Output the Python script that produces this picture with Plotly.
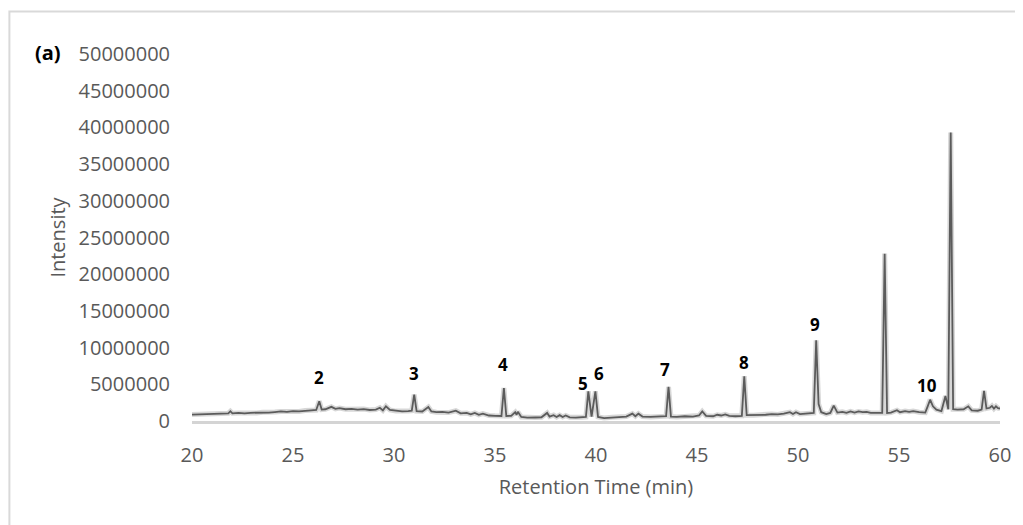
import plotly.graph_objects as go

# Retention time (min) and intensity (millions of counts)
retention_time = [
    20.0, 20.3, 20.6, 20.9, 21.2, 21.5, 21.8, 21.9, 22.0, 22.3, 22.6, 22.9, 23.2, 23.5, 23.8,
    24.1, 24.4, 24.7, 25.0, 25.3, 25.6, 25.9, 26.15, 26.3, 26.42, 26.6, 26.9, 27.1, 27.3, 27.6,
    27.9, 28.2, 28.5, 28.8, 29.1, 29.3, 29.45, 29.6, 29.8, 30.1, 30.4, 30.7, 30.88, 31.0, 31.12,
    31.4, 31.7, 31.85, 32.1, 32.4, 32.7, 33.06, 33.3, 33.6, 33.8, 34.0, 34.2, 34.4, 34.7, 35.0,
    35.32, 35.44, 35.56, 35.8, 36.0, 36.07, 36.13, 36.3, 36.6, 37.0, 37.3, 37.58, 37.7, 37.9, 38.05,
    38.2, 38.35, 38.5, 38.7, 39.0, 39.3, 39.5, 39.62, 39.78, 39.97, 40.1, 40.4, 40.8, 41.2, 41.5,
    41.8, 41.95, 42.1, 42.3, 42.7, 43.1, 43.47, 43.59, 43.71, 44.0, 44.4, 44.8, 45.1, 45.26, 45.45,
    45.8, 46.0, 46.2, 46.4, 46.6, 46.9, 47.22, 47.34, 47.46, 47.8, 48.1, 48.4, 48.7, 49.0, 49.3,
    49.6, 49.75, 49.9, 50.1, 50.4, 50.78, 50.9, 51.02, 51.15, 51.4, 51.6, 51.77, 51.95, 52.2, 52.4,
    52.6, 52.8, 53.0, 53.2, 53.4, 53.6, 53.9, 54.17, 54.29, 54.41, 54.6, 54.9, 55.05, 55.3, 55.5,
    55.7, 56.0, 56.3, 56.42, 56.54, 56.68, 56.85, 57.1, 57.3, 57.44, 57.56, 57.68, 57.9, 58.2, 58.43,
    58.6, 58.9, 59.09, 59.21, 59.33, 59.5, 59.6, 59.7, 59.8, 59.9, 60.0,
]
intensity_millions = [
    0.88, 0.90, 0.92, 0.95, 0.98, 1.00, 1.05, 1.33, 1.05, 1.10, 1.05, 1.12, 1.10, 1.18, 1.15,
    1.22, 1.30, 1.25, 1.35, 1.30, 1.42, 1.45, 1.50, 2.70, 1.55, 1.60, 1.93, 1.65, 1.75, 1.60,
    1.65, 1.55, 1.62, 1.50, 1.55, 1.80, 1.45, 2.00, 1.50, 1.35, 1.30, 1.35, 1.40, 3.60, 1.35,
    1.30, 1.90, 1.30, 1.20, 1.25, 1.15, 1.40, 1.05, 1.10, 0.90, 1.10, 0.85, 1.00, 0.75, 0.70,
    0.68, 4.50, 0.68, 0.70, 1.20, 0.85, 1.25, 0.55, 0.45, 0.48, 0.50, 1.10, 0.60, 0.80, 0.55,
    0.80, 0.55, 0.75, 0.50, 0.45, 0.50, 0.55, 4.05, 0.60, 4.05, 0.55, 0.40, 0.50, 0.55, 0.60,
    1.00, 0.65, 1.00, 0.60, 0.55, 0.60, 0.65, 4.65, 0.60, 0.55, 0.65, 0.60, 0.75, 1.30, 0.70,
    0.65, 0.85, 0.75, 0.90, 0.70, 0.65, 0.70, 6.10, 0.80, 0.80, 0.90, 0.85, 0.95, 0.90, 1.00,
    1.20, 0.95, 1.20, 0.95, 1.05, 1.10, 11.00, 2.30, 1.20, 0.95, 1.10, 2.10, 1.15, 1.25, 1.10,
    1.30, 1.15, 1.30, 1.20, 1.25, 1.10, 1.05, 1.10, 22.80, 1.10, 1.15, 1.47, 1.20, 1.35, 1.25,
    1.35, 1.20, 1.15, 2.00, 2.90, 2.00, 1.55, 1.35, 3.40, 1.60, 39.30, 1.60, 1.55, 1.60, 2.00,
    1.45, 1.40, 1.55, 4.10, 1.70, 1.80, 2.05, 1.70, 2.00, 1.75, 1.70,
]

# Peak labels
peak_labels = ["2", "3", "4", "5", "6", "7", "8", "9", "10"]
peak_label_time = [26.29, 30.98, 35.42, 39.37, 40.16, 43.42, 47.35, 50.86, 56.41]
peak_label_intensity_millions = [5.9, 6.45, 7.68, 5.1, 6.45, 7.0, 7.99, 13.1, 4.86]

x_ticks = [20, 25, 30, 35, 40, 45, 50, 55, 60]
y_ticks = [0, 5000000, 10000000, 15000000, 20000000, 25000000,
           30000000, 35000000, 40000000, 45000000, 50000000]

intensity = [v * 1e6 for v in intensity_millions]
label_y = [v * 1e6 for v in peak_label_intensity_millions]

FONT = "Open Sans"
TXT = "#595959"

fig = go.Figure()
# soft shadow under the line
fig.add_trace(go.Scatter(x=retention_time, y=intensity, mode="lines",
                         line=dict(color="rgba(110,110,110,0.28)", width=5),
                         hoverinfo="skip", showlegend=False))
fig.add_trace(go.Scatter(x=retention_time, y=intensity, mode="lines",
                         line=dict(color="#5b5b5b", width=1.8),
                         showlegend=False))

for txt, t, yv in zip(peak_labels, peak_label_time, label_y):
    fig.add_annotation(x=t, y=yv, text=f"<b>{txt}</b>", showarrow=False,
                       xanchor="center", yanchor="middle",
                       font=dict(family=FONT, size=17, color="#000000"))

fig.add_annotation(x=-0.178, y=1.004, xref="paper", yref="paper", text="<b>(a)</b>",
                   showarrow=False, xanchor="center", yanchor="middle",
                   font=dict(family=FONT, size=20, color="#000000"))

# outer frame
fig.add_shape(type="rect", xref="paper", yref="paper",
              x0=-0.226, x1=1.0235, y0=-0.30, y1=1.1155,
              line=dict(color="#d9d9d9", width=2), fillcolor="rgba(0,0,0,0)", layer="below")

fig.update_layout(
    width=1015, height=517,
    margin=dict(l=184, r=21, t=45.5, b=103.5),
    paper_bgcolor="white", plot_bgcolor="white",
    font=dict(family=FONT, color=TXT, size=20),
    xaxis=dict(range=[20, 60], tickvals=x_ticks, ticktext=[str(v) for v in x_ticks],
               showgrid=False, zeroline=False, showline=True, linecolor="#d4d4d4",
               linewidth=3, ticks="", ticklabelstandoff=14,
               tickfont=dict(family=FONT, size=20, color=TXT),
               title=dict(text="Retention Time (min)", standoff=13,
                          font=dict(family=FONT, size=20, color=TXT))),
    yaxis=dict(range=[0, 50000000], tickvals=y_ticks, ticktext=[str(v) for v in y_ticks],
               showgrid=False, zeroline=False, showline=False, ticks="",
               ticklabelstandoff=21,
               tickfont=dict(family=FONT, size=20, color=TXT),
               title=dict(text="Intensity", standoff=7,
                          font=dict(family=FONT, size=20, color=TXT))),
)

fig.write_html("out.html")
